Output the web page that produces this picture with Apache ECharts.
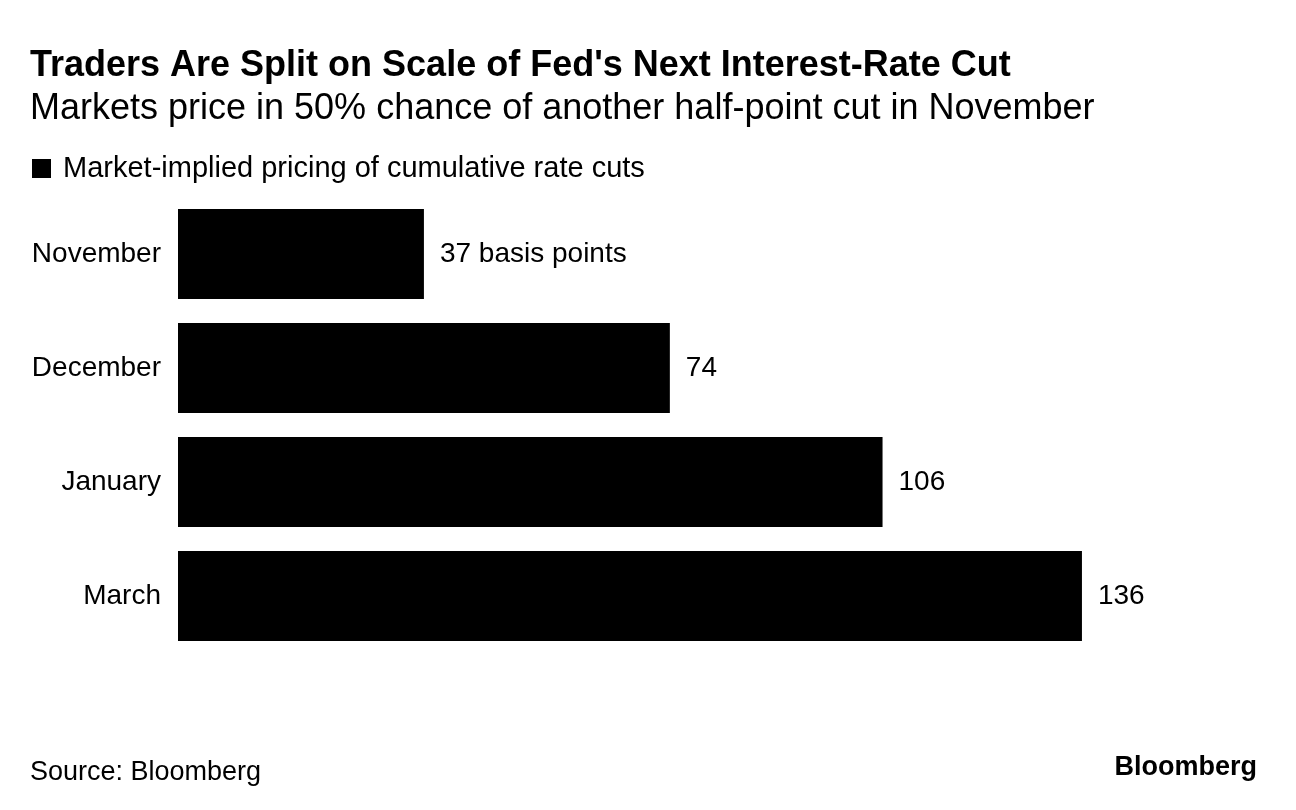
<!DOCTYPE html>
<html><head><meta charset="utf-8">
<script src="https://cdn.jsdelivr.net/npm/echarts@6/dist/echarts.min.js"></script>
<style>html,body{margin:0;padding:0;background:#fff}#c{width:1296px;height:810px}</style>
</head><body><div id="c"></div>
<script>
const categories = ['November', 'December', 'January', 'March'];
const values = [37, 74, 106, 136];
const seriesName = 'Market-implied pricing of cumulative rate cuts';
const F = '"Liberation Sans", Arial, Helvetica, sans-serif';
const chart = echarts.init(document.getElementById('c'));
chart.setOption({
  backgroundColor: '#fff',
  animation: false,
  title: [
    {text: "Traders Are Split on Scale of Fed's Next Interest-Rate Cut", left: 25, top: 43,
     textStyle: {fontFamily: F, fontSize: 36, fontWeight: 'bold', color: '#000'}},
    {text: 'Markets price in 50% chance of another half-point cut in November', left: 25, top: 86,
     textStyle: {fontFamily: F, fontSize: 36, fontWeight: 'normal', color: '#000'}},
    {text: 'Source: Bloomberg', left: 25, top: 754,
     textStyle: {fontFamily: F, fontSize: 27, fontWeight: 'normal', color: '#000'}},
    {text: 'Bloomberg', right: 34, top: 749,
     textStyle: {fontFamily: F, fontSize: 27, fontWeight: 'bold', color: '#000'}}
  ],
  legend: {
    left: 27, top: 149, itemWidth: 19, itemHeight: 19,
    icon: 'rect',
    textStyle: {fontFamily: F, fontSize: 29, color: '#000', padding: [0, 0, 0, 7]},
    data: [seriesName]
  },
  grid: {left: 178, width: 997, top: 197, height: 456, containLabel: false},
  xAxis: {type: 'value', min: 0, max: 150, show: false},
  yAxis: {
    type: 'category', data: categories, inverse: true,
    axisLine: {show: false}, axisTick: {show: false},
    axisLabel: {fontFamily: F, fontSize: 28, color: '#000', margin: 17}
  },
  series: [{
    name: seriesName, type: 'bar', data: values, barWidth: 90,
    itemStyle: {color: '#000'},
    label: {
      show: true, position: 'right', distance: 16,
      fontFamily: F, fontSize: 28, color: '#000',
      formatter: p => p.dataIndex === 0 ? p.value + ' basis points' : String(p.value)
    }
  }]
});
</script></body></html>
